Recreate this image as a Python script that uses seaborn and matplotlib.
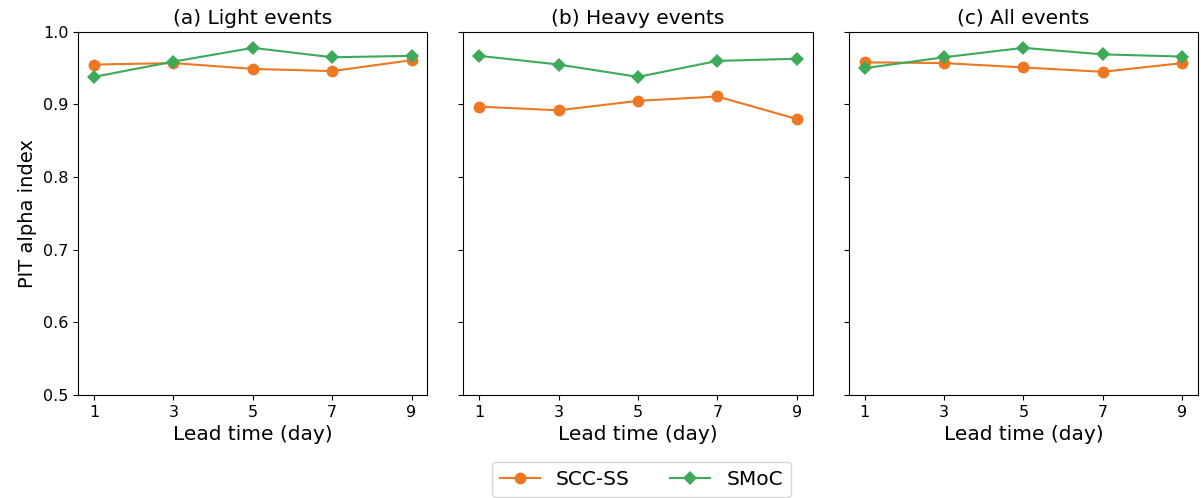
import numpy as np
import pandas as pd
import seaborn as sns
from matplotlib import pyplot as plt

# lead times and PIT alpha index values
lead_days = [1, 3, 5, 7, 9]
panel_titles = ['(a) Light events', '(b) Heavy events', '(c) All events']
methods = ['SCC-SS', 'SMoC']

scc_light = [0.955, 0.957, 0.949, 0.946, 0.961]
smoc_light = [0.938, 0.959, 0.978, 0.965, 0.967]
scc_heavy = [0.897, 0.892, 0.905, 0.911, 0.880]
smoc_heavy = [0.967, 0.955, 0.938, 0.960, 0.963]
scc_all = [0.958, 0.957, 0.951, 0.945, 0.957]
smoc_all = [0.950, 0.965, 0.978, 0.969, 0.966]

series = [(scc_light, smoc_light), (scc_heavy, smoc_heavy), (scc_all, smoc_all)]

palette = {'SCC-SS': '#ee7722', 'SMoC': '#3daa5a'}
markers = {'SCC-SS': 'o', 'SMoC': 'D'}
sizes = {'SCC-SS': 8.5, 'SMoC': 7.5}

fig, axes = plt.subplots(1, 3, figsize=(12.01, 4.98), dpi=100, sharey=True)

for ax, title, (scc, smoc) in zip(axes, panel_titles, series):
    for name, vals in zip(methods, [scc, smoc]):
        df = pd.DataFrame({'lead': lead_days, 'alpha': vals})
        sns.lineplot(data=df, x='lead', y='alpha', ax=ax, color=palette[name],
                     marker=markers[name], markersize=sizes[name],
                     markeredgewidth=0, linewidth=1.5, label=name, legend=False)
    ax.set_title(title, fontsize=14.5)
    ax.set_xticks(lead_days)
    ax.set_xlabel('Lead time (day)', fontsize=14.5)
    ax.set_ylabel('')
    ax.set_ylim(0.5, 1.0)
    ax.tick_params(labelsize=11.5)

axes[0].set_ylabel('PIT alpha index', fontsize=14)

handles, labels = axes[0].get_legend_handles_labels()
fig.legend(handles, labels, loc='upper center', bbox_to_anchor=(0.534, 0.092),
           ncol=2, fontsize=14.5)

plt.subplots_adjust(left=0.065, right=0.9975, top=0.936, bottom=0.207, wspace=0.103)
plt.savefig('out.png', dpi=100)
